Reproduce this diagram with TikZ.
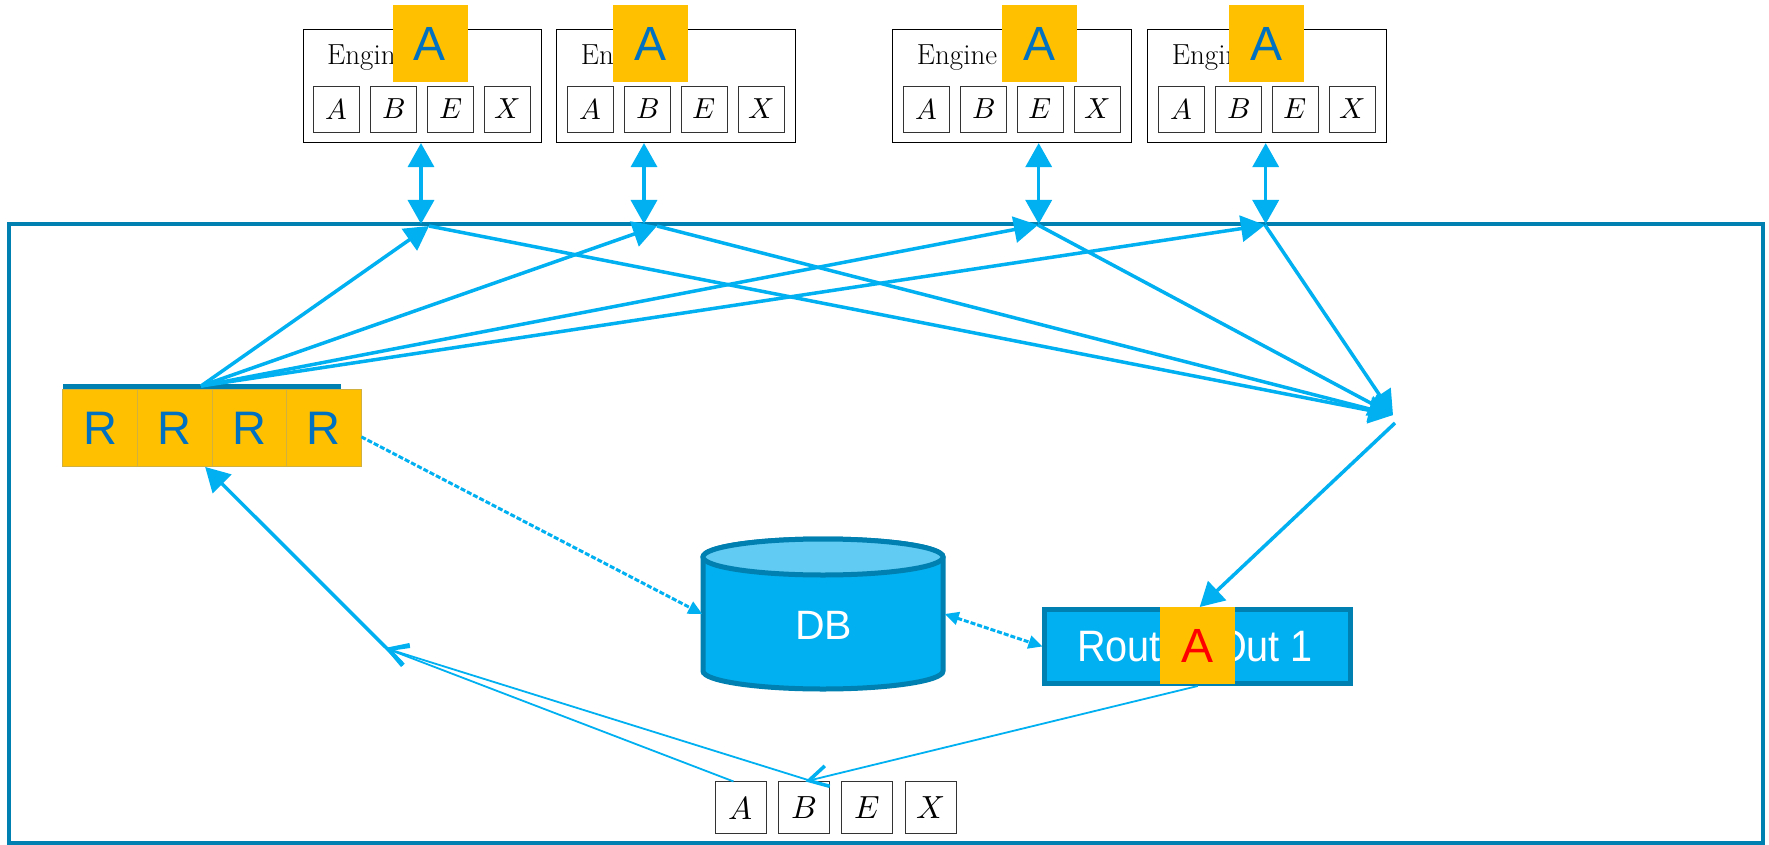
\documentclass[tikz,border=0pt]{standalone}
\usepackage{fontspec}
\usepackage{unicode-math}
\newfontfamily\arial{Liberation Sans}
\newfontfamily\arialn{Liberation Sans}[FakeStretch=0.9]
\usetikzlibrary{arrows.meta,calc}
\definecolor{cy}{HTML}{00B0F0}
\definecolor{dk}{HTML}{0080B0}
\definecolor{yl}{HTML}{FFC000}
\definecolor{bl}{HTML}{0070C0}
\definecolor{lt}{HTML}{62CBF4}
\definecolor{sep}{HTML}{D2B040}
\begin{document}
\begin{tikzpicture}[x=1pt,y=-1pt,
  engbox/.style={draw=black, line width=0.8pt, minimum width=238.7pt, minimum height=113.7pt, inner sep=0pt},
  engtxt/.style={inner sep=0pt, anchor=base west, font=\fontsize{29}{34}\selectfont},
  sq/.style={draw=black!80, line width=0.8pt, minimum width=46pt, minimum height=46pt, inner sep=0pt, font=\fontsize{29}{34}\selectfont},
  bsq/.style={sq, minimum width=51pt, minimum height=52pt, font=\fontsize{32}{38}\selectfont},
  ya/.style={fill=yl, minimum width=75pt, minimum height=77pt, inner sep=0pt, text=bl, font=\arial\fontsize{48}{56}\selectfont},
  rsq/.style={fill=yl, draw=sep, line width=0.5pt, minimum width=74.6pt, minimum height=77.7pt, inner sep=0pt, text=bl, font=\arial\fontsize{47}{56}\selectfont},
  conn/.style={draw=cy, line width=3.5pt},
  big/.style={-{Triangle[length=24pt,width=26pt]}},
  dbl/.style={{Triangle[length=24pt,width=26pt]}-{Triangle[length=24pt,width=26pt]}},
  thinc/.style={draw=cy, line width=1.8pt},
  barb/.style={-{Straight Barb[length=19pt,width=21pt,line width=3.5pt]}},
  dashc/.style={draw=cy, line width=3pt, dash pattern=on 5pt off 2pt},
  sarr/.style={-{Triangle[length=14pt,width=13pt]}},
  dsarr/.style={{Triangle[length=14pt,width=13pt]}-{Triangle[length=14pt,width=13pt]}}
]
\useasboundingbox (0,0) rectangle (1769,845);
% outer frame
\draw[dk, line width=4.5pt] (9,224) rectangle (1763,843);

% engines
\foreach \i/\L/\ax in {1/303/430,2/556.7/650.5,3/892.7/1039,4/1147.7/1266}{
  \node[engbox] (e\i) at ({\L+119.35},85.85) {};
  \node[engtxt] (en\i) at ({\L+24},65) {Engine};
  \foreach \k/\m in {0/A,1/B,2/E,3/X}{
    \node[sq] (e\i s\k) at ({\L+33.7+57*\k},109) {$\m$};
  }
  \node[ya] (a\i) at (\ax,43.5) {A};
}

% R row
\fill[dk] (63,384) rectangle (341,389);
\node[rsq] (r1) at (100.0,427.85) {R};
\node[rsq] (r2) at (174.6,427.85) {R};
\node[rsq] (r3) at (249.2,427.85) {R};
\node[rsq] (r4) at (323.8,427.85) {R};

% DB cylinder
\draw[fill=cy, draw=dk, line width=5pt]
  (703,557) -- (703,671) arc[start angle=180,end angle=0,x radius=120,y radius=18]
  -- (943,557) arc[start angle=0,end angle=-180,x radius=120,y radius=18] -- cycle;
\draw[fill=lt, draw=dk, line width=5pt] (823,557) ellipse[x radius=120, y radius=18];
\node[minimum width=242pt, minimum height=150pt, inner sep=0pt] (db) at (823.5,614) {};
\node[text=white, inner sep=0pt, font=\arial\fontsize{41}{48}\selectfont] (dbt) at (823.5,625) {DB};

% Route box
\node[draw=dk, fill=cy, line width=5pt, minimum width=305.5pt, minimum height=74pt, inner sep=0pt,
      text=white, font=\arialn\fontsize{44}{50}\selectfont] (route) at (1197.7,646.5)
      {\hspace*{-5.4pt}Route\hspace{33.4pt}Out 1};
\node[fill=yl, minimum width=75pt, minimum height=77pt, inner sep=0pt, text=red,
      font=\arial\fontsize{48}{56}\selectfont] (ra) at (1197.5,645.5) {A};

% bottom squares
\node[bsq] (b1) at (740.5,807.85) {$A$};
\node[bsq] (b2) at (803.8,807.85) {$B$};
\node[bsq] (b3) at (867.1,807.85) {$E$};
\node[bsq] (b4) at (930.5,807.85) {$X$};

% coordinates
\coordinate (rtop) at (201,386);
\coordinate (t1) at (421,224);
\coordinate (t2) at (644,224);
\coordinate (t3) at (1038.7,224);
\coordinate (t4) at (1265.7,224);
\coordinate (p1) at (429,226);
\coordinate (p2) at (657,226);
\coordinate (p3) at (1038,225);
\coordinate (p4) at (1265,225);
\coordinate (rp) at (1393,415);
\coordinate (rq) at (1395,423);
\coordinate (lp) at (385,648);
\coordinate (lq) at (401.5,663);

% engine <-> frame
\foreach \i in {1,...,4}{
  \draw[conn, dbl] (e\i.south -| t\i) -- (t\i);
}
% R -> frame, frame -> right point
\foreach \i in {1,...,4}{
  \draw[conn, big] (rtop) -- (p\i);
}
\foreach \i in {1,...,4}{
  \draw[conn, big] (p\i) -- (rp);
}
\draw[conn, big] (rq) -- ($(route.north)+(2,0)$);

% left branch
\draw[conn, big] (lq) -- ($(r2.south east)+(-7,0)$);
\draw[thinc, barb] ($(b1.north)+(-7,0)$) -- (lp);
\draw[thinc, barb] ($(b2.north east)+(-1,5)$) -- (lp);
\draw[thinc, barb] (route.south) -- ($(b2.north)+(1.5,0)$);

% dashed links
\draw[dashc, sarr] ($(r4.east)+(0,9)$) -- (db.west);
\draw[dashc, dsarr] (db.east) -- (route.west);
\end{tikzpicture}
\end{document}
